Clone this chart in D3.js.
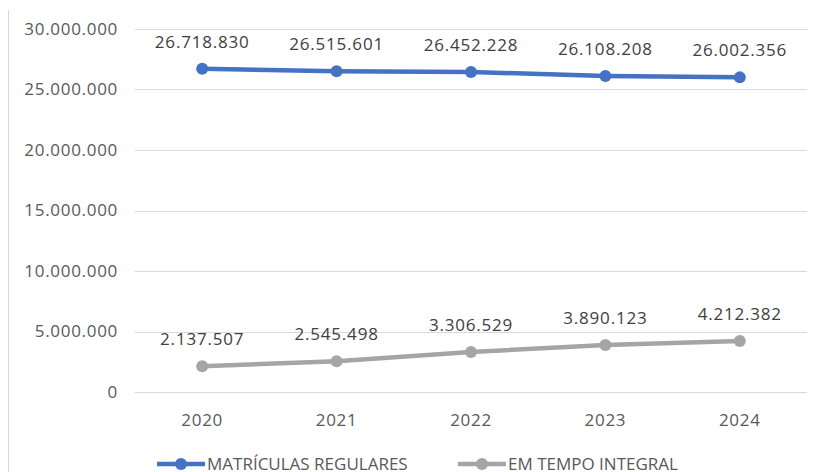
<!DOCTYPE html>
<html>
<head>
<meta charset="utf-8">
<script src="https://cdn.jsdelivr.net/npm/d3@7"></script>
<style>
  body { margin: 0; background: #fff; }
  svg { display: block; font-family: "Open Sans", Lato, sans-serif; }
</style>
</head>
<body>
<svg id="chart" width="821" height="472"></svg>
<script>
// data
var years = ["2020", "2021", "2022", "2023", "2024"];
var regulares = [26718830, 26515601, 26452228, 26108208, 26002356];
var integral = [2137507, 2545498, 3306529, 3890123, 4212382];
var yTicks = [0, 5000000, 10000000, 15000000, 20000000, 25000000, 30000000];
var seriesNames = ["MATRÍCULAS REGULARES", "EM TEMPO INTEGRAL"];
var seriesColors = ["#4472C4", "#A5A5A5"];

var svg = d3.select("#chart");
var margin = { left: 135, right: 14, top: 29, bottom: 80 };
var W = 821, H = 472;

var x = d3.scaleBand().domain(years).range([margin.left, W - margin.right]);
var y = d3.scaleLinear().domain([0, 30000000]).range([H - margin.bottom, margin.top]);

var fmt = function(v) {
    return d3.format(",")(v).replace(/,/g, ".");
};

// left border of chart area
svg.append("line")
    .attr("x1", 8.5).attr("x2", 8.5)
    .attr("y1", 10).attr("y2", H)
    .attr("stroke", "#d9d9d9").attr("stroke-width", 1);

// gridlines
svg.append("g").selectAll("line").data(yTicks).enter().append("line")
    .attr("x1", margin.left).attr("x2", W - margin.right)
    .attr("y1", function(d) { return Math.round(y(d)) + 0.5; })
    .attr("y2", function(d) { return Math.round(y(d)) + 0.5; })
    .attr("stroke", "#d9d9d9").attr("stroke-width", 1);

// y labels
svg.append("g").selectAll("text").data(yTicks).enter().append("text")
    .attr("x", 118)
    .attr("y", function(d) { return y(d); })
    .attr("dy", "0.35em")
    .attr("text-anchor", "end")
    .attr("font-size", 17)
    .attr("letter-spacing", 0.7)
    .attr("fill", "#595959")
    .text(function(d) { return fmt(d); });

// x labels
svg.append("g").selectAll("text").data(years).enter().append("text")
    .attr("x", function(d) { return x(d) + x.bandwidth() / 2; })
    .attr("y", 426)
    .attr("text-anchor", "middle")
    .attr("font-size", 17)
    .attr("letter-spacing", 0.7)
    .attr("fill", "#595959")
    .text(function(d) { return d; });

var line = d3.line()
    .x(function(d, i) { return x(years[i]) + x.bandwidth() / 2; })
    .y(function(d) { return y(d); });

[regulares, integral].forEach(function(vals, s) {
    var g = svg.append("g");
    g.append("path")
        .attr("d", line(vals))
        .attr("fill", "none")
        .attr("stroke", seriesColors[s])
        .attr("stroke-width", 4.5)
        .attr("stroke-linecap", "round");
    g.selectAll("circle").data(vals).enter().append("circle")
        .attr("cx", function(d, i) { return x(years[i]) + x.bandwidth() / 2; })
        .attr("cy", function(d) { return y(d); })
        .attr("r", 6)
        .attr("fill", seriesColors[s]);
    g.selectAll("text").data(vals).enter().append("text")
        .attr("x", function(d, i) { return x(years[i]) + x.bandwidth() / 2; })
        .attr("y", function(d) { return y(d) - 21; })
        .attr("text-anchor", "middle")
        .attr("font-size", 17)
        .attr("letter-spacing", 0.8)
        .attr("fill", "#404040")
        .text(function(d) { return fmt(d); });
});

// legend
var legendX = [157, 458];
seriesNames.forEach(function(name, s) {
    var lg = svg.append("g").attr("transform", "translate(" + legendX[s] + ",464)");
    lg.append("line")
        .attr("x1", 0).attr("x2", 48)
        .attr("stroke", seriesColors[s]).attr("stroke-width", 4.5);
    lg.append("circle").attr("cx", 24).attr("r", 6).attr("fill", seriesColors[s]);
    lg.append("text")
        .attr("x", 50).attr("dy", "0.35em")
        .attr("font-size", 17).attr("fill", "#595959")
        .text(name);
});
</script>
</body>
</html>
